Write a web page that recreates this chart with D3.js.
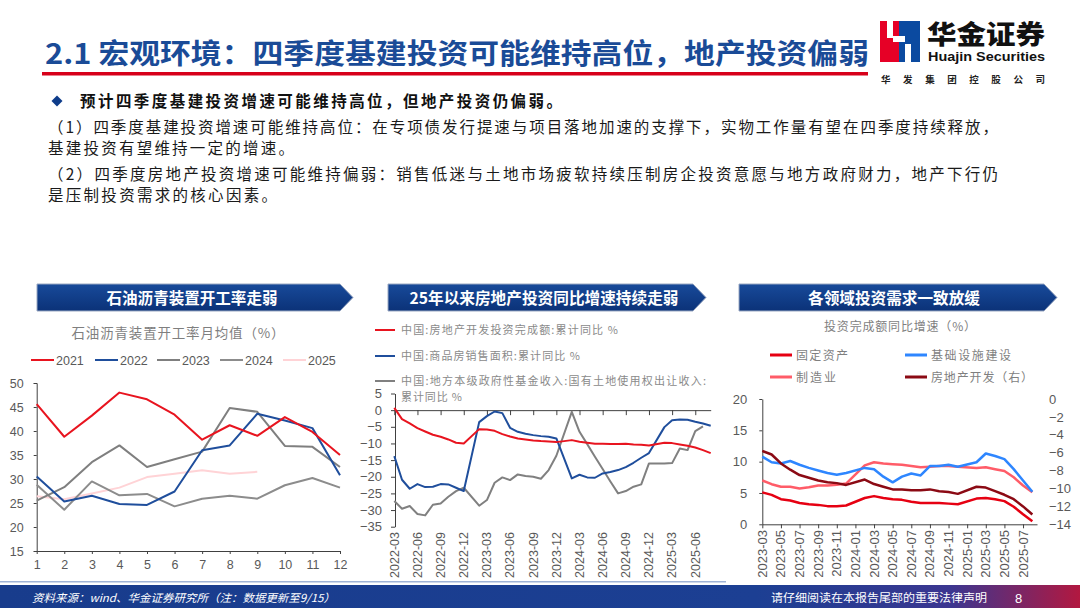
<!DOCTYPE html>
<html>
<head>
<meta charset="utf-8">
<script src="https://cdn.jsdelivr.net/npm/d3@7"></script>
<style>
body { margin: 0; background: #fff; }
svg { display: block; }
</style>
</head>
<body>
<svg id="slide" width="1080" height="608"></svg>
<script>
// ---- chart 1: asphalt plant operating rate, monthly avg (%)
var asphaltMonths = [1, 2, 3, 4, 5, 6, 7, 8, 9, 10, 11, 12];
var asphaltYears = ['2021', '2022', '2023', '2024', '2025'];
var rate2021 = [45.6, 38.8, 43.2, 48.0, 46.6, 43.4, 38.2, 41.2, 39.0, 42.9, 39.8, 35.0];
var rate2022 = [30.5, 25.3, 26.5, 24.8, 24.6, 27.4, 36.0, 37.0, 43.6, 42.2, 40.6, 30.8];
var rate2023 = [25.5, 28.3, 33.5, 37.0, 32.5, 34.1, 35.7, 44.8, 44.0, 36.9, 36.7, 32.5];
var rate2024 = [28.8, 23.6, 29.5, 26.6, 26.9, 24.3, 25.9, 26.5, 25.9, 28.7, 30.2, 28.2];
var rate2025 = [26.4, 25.8, 27.0, 28.2, 30.4, 31.1, 31.8, 31.1, 31.5];
var asphaltTicks = [15, 20, 25, 30, 35, 40, 45, 50];

// ---- chart 2: real estate, monthly 2022-03 .. 2025-08 (null = no January print)
var reStart = new Date(2022, 2, 1), reEnd = new Date(2025, 8, 1);
var reInvest = [0.7, -2.7, -4.0, -5.4, -6.4, -7.4, -8.0, -8.8, -9.8, -10.0,
    null, -5.7, -5.8, -6.2, -7.2, -7.9, -8.5, -8.8, -9.1, -9.3, -9.4, -9.6,
    null, -9.0, -9.5, -9.8, -10.1, -10.1, -10.2, -10.2, -10.1, -10.3, -10.4, -10.6,
    null, -9.8, -9.9, -10.3, -10.7, -11.2, -12.0, -12.9];
var reSales = [-13.8, -20.9, -23.6, -22.2, -23.1, -23.0, -22.2, -22.3, -23.3, -24.3,
    null, -3.6, -1.8, -0.4, -0.9, -5.3, -6.5, -7.1, -7.5, -7.8, -8.0, -8.5,
    null, -20.5, -19.4, -20.2, -20.3, -19.0, -18.6, -18.0, -17.1, -15.8, -14.3, -12.9,
    null, -5.1, -3.0, -2.8, -2.9, -3.5, -4.0, -4.7];
var reLand = [-27.3, -29.6, -28.8, -31.2, -31.6, -28.4, -28.0, -26.0, -24.3, -23.3,
    null, -28.7, -27.0, -21.8, -20.2, -21.0, -19.3, -19.8, -20.0, -20.6, -18.0, -13.7,
    null, -0.5, -6.5, -10.2, -14.0, -17.7, -21.4, -25.0, -24.3, -23.0, -22.3, -16.0,
    null, -16.0, -15.9, -11.5, -12.0, -6.3, -4.9, null];
var reLegend = ['中国:房地产开发投资完成额:累计同比 %', '中国:商品房销售面积:累计同比 %',
    '中国:地方本级政府性基金收入:国有土地使用权出让收入:'];
var reTicks = [5, 0, -5, -10, -15, -20, -25, -30, -35];

// ---- chart 3: investment by sector, monthly 2023-03 .. 2025-08
var secStart = new Date(2023, 2, 1), secEnd = new Date(2025, 8, 1);
var faiGrowth = [5.1, 4.7, 4.0, 3.8, 3.4, 3.2, 3.1, 2.9, 2.9, 3.0,
    null, 4.2, 4.5, 4.2, 4.0, 3.9, 3.6, 3.4, 3.4, 3.4, 3.3, 3.2,
    null, 4.1, 4.2, 4.0, 3.7, 2.8, 1.6, 0.5];
var infraGrowth = [10.8, 9.9, 9.7, 10.1, 9.5, 9.0, 8.6, 8.2, 7.9, 8.2,
    null, 9.0, 8.8, 7.6, 6.7, 7.6, 8.1, 7.8, 9.3, 9.3, 9.5, 9.2,
    null, 9.9, 11.3, 10.9, 10.4, 8.8, 7.0, 5.2];
var mfgGrowth = [7.0, 6.4, 6.0, 6.0, 5.7, 5.9, 6.2, 6.2, 6.3, 6.5,
    null, 9.4, 9.9, 9.7, 9.6, 9.5, 9.3, 9.1, 9.2, 9.3, 9.3, 9.2,
    null, 9.0, 9.1, 8.8, 8.5, 7.5, 6.2, 5.1];
var propGrowth = [-5.8, -6.2, -7.2, -7.9, -8.5, -8.8, -9.1, -9.3, -9.4, -9.6,
    null, -9.0, -9.5, -9.8, -10.1, -10.1, -10.2, -10.2, -10.1, -10.3, -10.4, -10.6,
    null, -9.8, -9.9, -10.3, -10.7, -11.2, -12.0, -12.9];
var secLegend = ['固定资产', '基础设施建设', '制造业', '房地产开发（右）'];
var secLeftTicks = [0, 5, 10, 15, 20];
var secRightTicks = [0, -2, -4, -6, -8, -10, -12, -14];

var CJK = '"Noto Sans CJK SC", "Noto Sans", sans-serif';
var LAT = '"Liberation Sans", Arial, sans-serif';
var TICK = '#595959';

var svg = d3.select('#slide');
var defs = svg.append('defs');

var fmtMonth = d3.timeFormat('%Y-%m');

// points for a line, skipping the missing months so the line joins across them
function pts(values) {
    return values.map(function (v, i) { return {i: i, v: v}; })
        .filter(function (d) { return d.v !== null; });
}

function drawLine(g, values, x, y, color, width) {
    g.append('path')
        .datum(pts(values))
        .attr('fill', 'none')
        .attr('stroke', color)
        .attr('stroke-width', width || 2)
        .attr('stroke-linejoin', 'round')
        .attr('d', d3.line().x(function (d) { return x(d.i); }).y(function (d) { return y(d.v); }));
}

function styleAxis(g, size) {
    g.selectAll('.domain').attr('stroke', '#404040');
    g.selectAll('.tick line').attr('stroke', '#404040');
    g.selectAll('.tick text').attr('fill', TICK).attr('font-family', LAT).attr('font-size', size);
}

// ---------------- header ----------------
svg.append('text')
    .attr('x', 45).attr('y', 64)
    .attr('font-family', CJK).attr('font-weight', 700).attr('font-size', 28)
    .attr('fill', '#1a4b97')
    .attr('textLength', 824).attr('lengthAdjust', 'spacingAndGlyphs')
    .text('2.1 宏观环境：四季度基建投资可能维持高位，地产投资偏弱');
svg.append('rect').attr('x', 42).attr('y', 72).attr('width', 826).attr('height', 3.5).attr('fill', '#d7001a');

// logo
var logo = svg.append('g');
logo.append('rect').attr('x', 880).attr('y', 21).attr('width', 19).attr('height', 41).attr('fill', '#e60026');
logo.append('rect').attr('x', 899).attr('y', 21).attr('width', 21).attr('height', 41).attr('fill', '#0b4aa0');
logo.append('rect').attr('x', 887).attr('y', 21).attr('width', 6).attr('height', 17).attr('fill', '#fff');
logo.append('rect').attr('x', 893).attr('y', 36).attr('width', 12).attr('height', 6).attr('fill', '#fff');
logo.append('rect').attr('x', 905).attr('y', 44).attr('width', 6).attr('height', 18).attr('fill', '#fff');
logo.append('text').attr('x', 927).attr('y', 44)
    .attr('font-family', CJK).attr('font-weight', 900).attr('font-size', 26)
    .attr('fill', '#111')
    .attr('textLength', 118).attr('lengthAdjust', 'spacingAndGlyphs').text('华金证券');
logo.append('text').attr('x', 928).attr('y', 61)
    .attr('font-family', LAT).attr('font-weight', 700).attr('font-size', 13).attr('fill', '#111')
    .attr('textLength', 117).attr('lengthAdjust', 'spacingAndGlyphs').text('Huajin Securities');
logo.append('text').attr('x', 881).attr('y', 83)
    .attr('font-family', CJK).attr('font-weight', 700).attr('font-size', 9.5).attr('fill', '#222')
    .attr('textLength', 164).attr('lengthAdjust', 'spacing').text('华发集团控股公司');

// ---------------- body text ----------------
svg.append('path')
    .attr('d', 'M57,95.5L62.5,101L57,106.5L51.5,101Z')
    .attr('fill', '#0e3c8a');
svg.append('text').attr('x', 80).attr('y', 107)
    .attr('font-family', CJK).attr('font-weight', 700).attr('font-size', 15.5).attr('fill', '#111')
    .attr('textLength', 482).attr('lengthAdjust', 'spacing')
    .text('预计四季度基建投资增速可能维持高位，但地产投资仍偏弱。');

var bodyLines = [
    {t: '（1）四季度基建投资增速可能维持高位：在专项债发行提速与项目落地加速的支撑下，实物工作量有望在四季度持续释放，', y: 133, w: 950},
    {t: '基建投资有望维持一定的增速。', y: 154, w: 246},
    {t: '（2）四季度房地产投资增速可能维持偏弱：销售低迷与土地市场疲软持续压制房企投资意愿与地方政府财力，地产下行仍', y: 180, w: 950},
    {t: '是压制投资需求的核心因素。', y: 201, w: 229}
];
svg.selectAll('.body').data(bodyLines).enter().append('text')
    .attr('x', 48).attr('y', function (d) { return d.y; })
    .attr('font-family', CJK).attr('font-size', 15.5).attr('fill', '#1a1a1a')
    .attr('textLength', function (d) { return d.w; }).attr('lengthAdjust', 'spacing')
    .text(function (d) { return d.t; });

// ---------------- banners ----------------
var bg = defs.append('linearGradient').attr('id', 'bannerGrad').attr('x1', 0).attr('y1', 0).attr('x2', 0).attr('y2', 1);
bg.append('stop').attr('offset', '0%').attr('stop-color', '#184a9a');
bg.append('stop').attr('offset', '100%').attr('stop-color', '#0b3278');

function banner(x0, x1, text, cx, w) {
    var y0 = 284, h = 27;
    svg.append('path')
        .attr('d', 'M' + [[x0, y0], [x1 - 13, y0], [x1, y0 + h / 2], [x1 - 13, y0 + h], [x0, y0 + h]].join('L') + 'Z')
        .attr('fill', 'url(#bannerGrad)')
        .attr('stroke', '#9aa8c2').attr('stroke-width', 1);
    svg.append('text').attr('x', cx).attr('y', y0 + 19.5)
        .attr('text-anchor', 'middle')
        .attr('font-family', CJK).attr('font-weight', 700).attr('font-size', 15.5).attr('fill', '#fff')
        .attr('textLength', w).attr('lengthAdjust', 'spacingAndGlyphs')
        .text(text);
}
banner(37, 353, '石油沥青装置开工率走弱', 192, 171);
banner(388, 706, '25年以来房地产投资同比增速持续走弱', 544, 269);
banner(739, 1057, '各领域投资需求一致放缓', 894, 172);

// ---------------- chart 1 ----------------
var c1 = svg.append('g');
var x1 = d3.scaleLinear().domain([1, 12]).range([36.7, 340]);
var y1 = d3.scaleLinear().domain([15, 50]).range([551, 383]);

c1.append('text').attr('x', 178).attr('y', 338).attr('text-anchor', 'middle')
    .attr('font-family', CJK).attr('font-size', 13.5).attr('fill', '#7f7f7f')
    .attr('textLength', 213).attr('lengthAdjust', 'spacing')
    .text('石油沥青装置开工率月均值（%）');

var c1Colors = ['#e8141f', '#1f4e9c', '#7f7f7f', '#8c8c8c', '#ffd3d6'];
var c1Series = [rate2021, rate2022, rate2023, rate2024, rate2025];
var c1LegX = [31, 95, 157, 220, 283];
asphaltYears.forEach(function (yr, k) {
    c1.append('line').attr('x1', c1LegX[k]).attr('x2', c1LegX[k] + 23).attr('y1', 360).attr('y2', 360)
        .attr('stroke', c1Colors[k]).attr('stroke-width', 2);
    c1.append('text').attr('x', c1LegX[k] + 25).attr('y', 364.5)
        .attr('font-family', LAT).attr('font-size', 12.5).attr('fill', TICK).text(yr);
});

var ax1y = c1.append('g').attr('transform', 'translate(36.7,0)')
    .call(d3.axisLeft(y1).tickValues(asphaltTicks).tickSize(3).tickPadding(10));
styleAxis(ax1y, 12.5);
var ax1x = c1.append('g').attr('transform', 'translate(0,551)')
    .call(d3.axisBottom(x1).tickValues(asphaltMonths).tickSize(3).tickPadding(6).tickSizeOuter(0));
styleAxis(ax1x, 12.5);

// draw older years first so 2021 sits on top like the original
[4, 3, 2, 1, 0].forEach(function (k) {
    drawLine(c1, c1Series[k], function (i) { return x1(asphaltMonths[i]); }, y1, c1Colors[k], 2);
});

// ---------------- chart 2 ----------------
var c2 = svg.append('g');
var reMonths = d3.timeMonth.range(reStart, reEnd);
var x2 = d3.scaleLinear().domain([0, reMonths.length - 1]).range([394.3, 710.7]);
var y2 = d3.scaleLinear().domain([-35, 5]).range([526.7, 393.5]);
var c2Colors = ['#e8141f', '#1f4e9c', '#808080'];

reLegend.forEach(function (t, k) {
    var ly = [330, 356, 381][k];
    c2.append('line').attr('x1', 375).attr('x2', 395).attr('y1', ly).attr('y2', ly)
        .attr('stroke', c2Colors[k]).attr('stroke-width', 2);
    c2.append('text').attr('x', 401).attr('y', ly + 4)
        .attr('font-family', CJK).attr('font-size', 11).attr('fill', '#8a8a8a')
        .attr('textLength', [217, 179, 305][k]).attr('lengthAdjust', 'spacing')
        .text(t);
});
c2.append('text').attr('x', 401).attr('y', 401)
    .attr('font-family', CJK).attr('font-size', 11).attr('fill', '#8a8a8a')
    .attr('textLength', 61).attr('lengthAdjust', 'spacing').text('累计同比 %');

var ax2y = c2.append('g').attr('transform', 'translate(395,0)')
    .call(d3.axisLeft(y2).tickValues(reTicks).tickSize(4).tickPadding(9).tickSizeOuter(0));
styleAxis(ax2y, 13);

var reTickIdx = d3.range(0, reMonths.length, 3);
var ax2x = c2.append('g').attr('transform', 'translate(0,' + y2(0) + ')')
    .call(d3.axisBottom(x2).tickValues(reTickIdx).tickSize(5).tickFormat('').tickSizeOuter(0));
styleAxis(ax2x, 12);

c2.selectAll('.xl2').data(reTickIdx).enter().append('text')
    .attr('transform', function (d) { return 'translate(' + x2(d) + ',532) rotate(-90)'; })
    .attr('text-anchor', 'end').attr('dy', '0.35em')
    .attr('font-family', LAT).attr('font-size', 12.5).attr('fill', TICK)
    .text(function (d) { return fmtMonth(reMonths[d]); });

drawLine(c2, reLand, x2, y2, c2Colors[2], 2);
drawLine(c2, reSales, x2, y2, c2Colors[1], 2);
drawLine(c2, reInvest, x2, y2, c2Colors[0], 2);

// ---------------- chart 3 ----------------
var c3 = svg.append('g');
var secMonths = d3.timeMonth.range(secStart, secEnd);
var x3 = d3.scaleLinear().domain([0, 29.5]).range([762.3, 1037]);
var y3 = d3.scaleLinear().domain([0, 20]).range([524.3, 399]);
var y3r = d3.scaleLinear().domain([-14, 0]).range([524.3, 399]);
var c3Colors = ['#e60012', '#2e86ff', '#ff5c68', '#8b0a14'];

c3.append('text').attr('x', 900).attr('y', 331).attr('text-anchor', 'middle')
    .attr('font-family', CJK).attr('font-size', 12).attr('fill', '#7f7f7f')
    .attr('textLength', 152).attr('lengthAdjust', 'spacing')
    .text('投资完成额同比增速（%）');

var c3Leg = [{x: 770, y: 355, w: 52}, {x: 905, y: 355, w: 80}, {x: 770, y: 377, w: 40}, {x: 905, y: 377, w: 102}];
secLegend.forEach(function (t, k) {
    var p = c3Leg[k];
    c3.append('line').attr('x1', p.x).attr('x2', p.x + 22).attr('y1', p.y).attr('y2', p.y)
        .attr('stroke', c3Colors[k]).attr('stroke-width', 3);
    c3.append('text').attr('x', p.x + 26).attr('y', p.y + 4.5)
        .attr('font-family', CJK).attr('font-size', 12).attr('fill', '#7f7f7f')
        .attr('textLength', p.w).attr('lengthAdjust', 'spacing').text(t);
});

var ax3y = c3.append('g').attr('transform', 'translate(762.3,0)')
    .call(d3.axisLeft(y3).tickValues(secLeftTicks).tickSize(3).tickPadding(12).tickSizeOuter(0));
styleAxis(ax3y, 13);
var ax3r = c3.append('g').attr('transform', 'translate(1037,0)')
    .call(d3.axisRight(y3r).tickValues(secRightTicks).tickSize(0).tickPadding(12));
styleAxis(ax3r, 13);
ax3r.select('.domain').remove();

var secTickIdx = d3.range(0, secMonths.length, 2);
var ax3x = c3.append('g').attr('transform', 'translate(0,524.3)')
    .call(d3.axisBottom(x3).tickValues(secTickIdx).tickSize(4).tickFormat('').tickSizeOuter(0));
styleAxis(ax3x, 12);
c3.selectAll('.xl3').data(secTickIdx).enter().append('text')
    .attr('transform', function (d) { return 'translate(' + x3(d) + ',530) rotate(-90)'; })
    .attr('text-anchor', 'end').attr('dy', '0.35em')
    .attr('font-family', LAT).attr('font-size', 13).attr('fill', TICK)
    .text(function (d) { return fmtMonth(secMonths[d]); });

drawLine(c3, mfgGrowth, x3, y3, c3Colors[2], 2.5);
drawLine(c3, infraGrowth, x3, y3, c3Colors[1], 2.5);
drawLine(c3, faiGrowth, x3, y3, c3Colors[0], 2.5);
drawLine(c3, propGrowth, x3, y3r, c3Colors[3], 2.5);

// ---------------- footer ----------------
var fg = defs.append('linearGradient').attr('id', 'footGrad').attr('x1', 0).attr('y1', 0).attr('x2', 1).attr('y2', 0);
fg.append('stop').attr('offset', '0%').attr('stop-color', '#183c8c');
fg.append('stop').attr('offset', '70%').attr('stop-color', '#1c3f93');
fg.append('stop').attr('offset', '88%').attr('stop-color', '#3b3690');
fg.append('stop').attr('offset', '100%').attr('stop-color', '#b21840');
svg.append('rect').attr('x', 0).attr('y', 581).attr('width', 726).attr('height', 1.5).attr('fill', '#9fb3d6');
svg.append('rect').attr('x', 0).attr('y', 585).attr('width', 1080).attr('height', 23).attr('fill', 'url(#footGrad)');
svg.append('text').attr('x', 32).attr('y', 602)
    .attr('font-family', CJK).attr('font-style', 'italic').attr('font-size', 11).attr('fill', '#fff')
    .attr('textLength', 303).attr('lengthAdjust', 'spacingAndGlyphs')
    .text('资料来源：wind、华金证券研究所（注：数据更新至9/15）');
svg.append('text').attr('x', 771).attr('y', 602)
    .attr('font-family', CJK).attr('font-size', 11).attr('fill', '#fff')
    .attr('textLength', 216).attr('lengthAdjust', 'spacingAndGlyphs')
    .text('请仔细阅读在本报告尾部的重要法律声明');
svg.append('text').attr('x', 1015).attr('y', 603)
    .attr('font-family', LAT).attr('font-size', 13).attr('fill', '#fff').text('8');
</script>
</body>
</html>
